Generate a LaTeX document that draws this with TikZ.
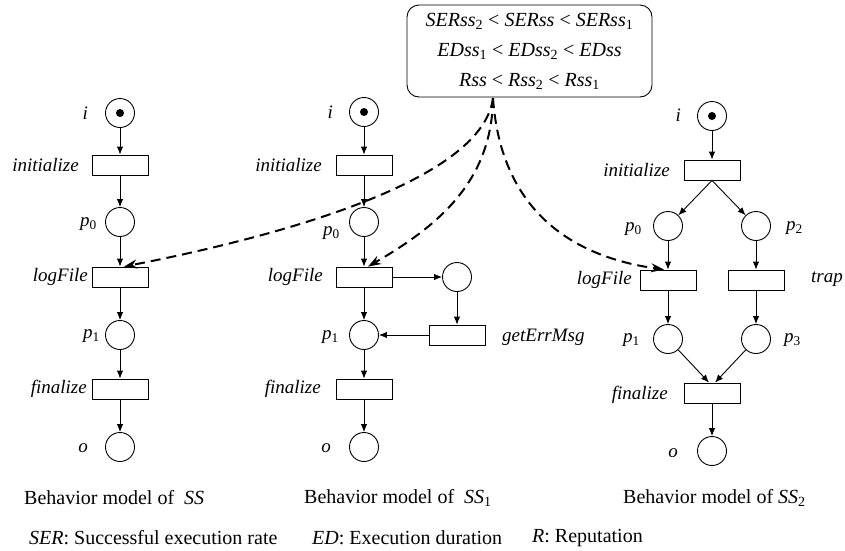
\documentclass[tikz,border=0pt]{standalone}
\usepackage{fontspec}
\setmainfont{Liberation Serif}
\usetikzlibrary{arrows.meta}
\newcommand{\sbs}[1]{\textsubscript{\textup{#1}}}
\begin{document}
\begin{tikzpicture}[x=1pt,y=-1pt,
  place/.style={circle,draw,line width=0.9pt,minimum size=29pt,inner sep=0pt},
  trans/.style={rectangle,draw,line width=0.9pt,minimum width=56pt,minimum height=20pt,inner sep=0pt},
  arc/.style={line width=0.9pt,-{Latex[length=8pt,width=6.5pt]}},
  dep/.style={line width=2pt,dash pattern=on 10pt off 6pt,-{Stealth[length=13pt,width=9pt]}},
  lab/.style={font=\fontsize{19}{22}\selectfont\itshape,inner sep=0pt},
  captext/.style={font=\fontsize{20}{24}\selectfont,inner sep=0pt},
  token/.style={fill=black}]
\useasboundingbox (0,0) rectangle (845,550);

% ---------- constraint box ----------
\node[draw,line width=0.9pt,rounded corners=12pt,minimum width=245pt,minimum height=92pt,
      align=center,font=\fontsize{20}{30}\selectfont,inner sep=0pt] (box) at (529.5,51)
  {\textit{SERss}\sbs{2} < \textit{SERss} < \textit{SERss}\sbs{1}\\
   \textit{EDss}\sbs{1} < \textit{EDss}\sbs{2} < \textit{EDss}\\
   \textit{Rss} < \textit{Rss}\sbs{2} < \textit{Rss}\sbs{1}};
\coordinate (src) at (493,98);

% ---------- net of SS ----------
\node[place] (i1) at (120,113) {};
\fill[token] (i1.center) circle[radius=4pt];
\node[trans] (ini1) at (120,165) {};
\node[place] (p01) at (120,222) {};
\node[trans] (lf1) at (120,277) {};
\node[place] (p11) at (120,335) {};
\node[trans] (fin1) at (120,389) {};
\node[place] (o1) at (120,447) {};
\draw[arc] (i1) -- (ini1);
\draw[arc] (ini1) -- (p01);
\draw[arc] (p01) -- (lf1);
\draw[arc] (lf1) -- (p11);
\draw[arc] (p11) -- (fin1);
\draw[arc] (fin1) -- (o1);
\node[lab,anchor=east] (li1) at (88,113) {i};
\node[lab,anchor=east] (lini1) at (79,165) {initialize};
\node[lab,anchor=east] (lp01) at (97,224) {p\sbs{0}};
\node[lab,anchor=east] (llf1) at (88,277) {logFile};
\node[lab,anchor=east] (lp11) at (100,336) {p\sbs{1}};
\node[lab,anchor=east] (lfin1) at (87,389) {finalize};
\node[lab,anchor=east] (lo1) at (88,448) {o};

% ---------- net of SS1 ----------
\node[place] (i2) at (364,112) {};
\fill[token] (i2.center) circle[radius=4pt];
\node[trans] (ini2) at (364,165) {};
\node[place] (p02) at (364,222) {};
\node[trans] (lf2) at (364,277) {};
\node[place] (q2) at (457,277) {};
\node[place] (p12) at (364,335) {};
\node[trans] (ge2) at (457,335) {};
\node[trans] (fin2) at (364,389) {};
\node[place] (o2) at (364,447) {};
\draw[arc] (i2) -- (ini2);
\draw[arc] (ini2) -- (p02);
\draw[arc] (p02) -- (lf2);
\draw[arc] (lf2) -- (q2);
\draw[arc] (q2) -- (ge2);
\draw[arc] (ge2) -- (p12);
\draw[arc] (lf2) -- (p12);
\draw[arc] (p12) -- (fin2);
\draw[arc] (fin2) -- (o2);
\node[lab,anchor=east] (li2) at (333,112) {i};
\node[lab,anchor=east] (lini2) at (322,165) {initialize};
\node[lab,anchor=east] (lp02) at (340,233) {p\sbs{0}};
\node[lab,anchor=east] (llf2) at (323,277) {logFile};
\node[lab,anchor=east] (lp12) at (339,337) {p\sbs{1}};
\node[lab,anchor=west] (lge2) at (502,337) {getErrMsg};
\node[lab,anchor=east] (lfin2) at (321,389) {finalize};
\node[lab,anchor=east] (lo2) at (331,448) {o};

% ---------- net of SS2 ----------
\node[place] (i3) at (712,116) {};
\fill[token] (i3.center) circle[radius=4pt];
\node[trans] (ini3) at (712,170) {};
\node[place] (p03) at (668,226) {};
\node[place] (p23) at (756,226) {};
\node[trans] (lf3) at (668,280) {};
\node[trans] (tr3) at (756,280) {};
\node[place] (p13) at (668,339) {};
\node[place] (p33) at (756,339) {};
\node[trans] (fin3) at (712,393) {};
\node[place] (o3) at (712,451) {};
\draw[arc] (i3) -- (ini3);
\draw[arc] (ini3.south) -- (p03);
\draw[arc] (ini3.south) -- (p23);
\draw[arc] (p03) -- (lf3);
\draw[arc] (p23) -- (tr3);
\draw[arc] (lf3) -- (p13);
\draw[arc] (tr3) -- (p33);
\draw[arc] (p13) -- ([xshift=-3pt]fin3.north);
\draw[arc] (p33) -- ([xshift=3pt]fin3.north);
\draw[arc] (fin3) -- (o3);
\node[lab,anchor=east] (li3) at (681,115) {i};
\node[lab,anchor=east] (lini3) at (670,170) {initialize};
\node[lab,anchor=east] (lp03) at (642,229) {p\sbs{0}};
\node[lab,anchor=west] (lp23) at (786,228) {p\sbs{2}};
\node[lab,anchor=east] (llf3) at (632,280) {logFile};
\node[lab,anchor=west] (ltr3) at (811,279) {trap};
\node[lab,anchor=east] (lp13) at (640,340) {p\sbs{1}};
\node[lab,anchor=west] (lp33) at (784,340) {p\sbs{3}};
\node[lab,anchor=east] (lfin3) at (668,395) {finalize};
\node[lab,anchor=east] (lo3) at (678,453) {o};

% ---------- ordering relations ----------
\draw[dep] (src) .. controls (482,185) and (260,240) .. ([xshift=4pt]lf1.north);
\draw[dep] (src) .. controls (492,180) and (440,225) .. ([xshift=4pt]lf2.north);
\draw[dep] (src) .. controls (500,200) and (560,255) .. ([xshift=-4pt]lf3.north);

% ---------- captions ----------
\node[captext,anchor=west] (c1) at (24,498) {Behavior model of \ \textit{SS}};
\node[captext,anchor=west] (c2) at (304,498) {Behavior model of \ \textit{SS}\sbs{1}};
\node[captext,anchor=west] (c3) at (623,498) {Behavior model of \textit{SS}\sbs{2}};
\node[captext,anchor=west] (k1) at (29,538) {\textit{SER}: Successful execution rate};
\node[captext,anchor=west] (k2) at (312,538) {\textit{ED}: Execution duration};
\node[captext,anchor=west] (k3) at (532,538) {\textit{R}: Reputation};
\end{tikzpicture}
\end{document}
